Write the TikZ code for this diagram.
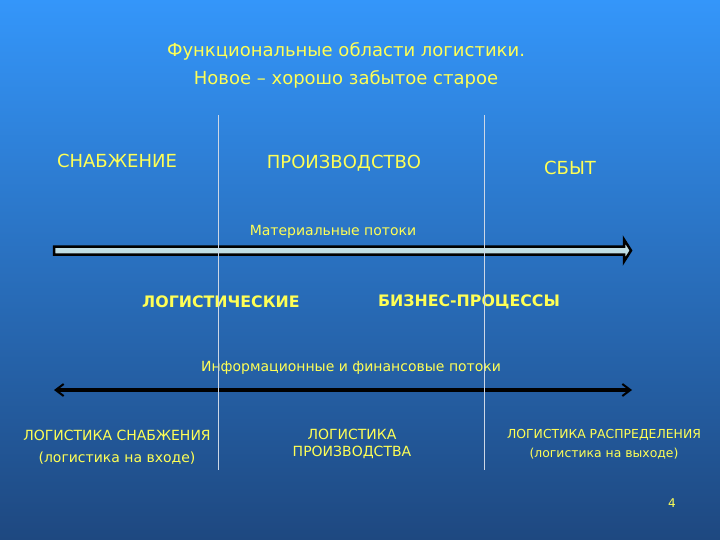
\documentclass[tikz,border=0pt]{standalone}
\usepackage{fontspec}
\setmainfont{DejaVu Sans}
\usepackage{tikz}
\usetikzlibrary{
  arrows.meta,%
  calc
}
\definecolor{slidetop}{RGB}{52,150,250}
\definecolor{slidemid}{RGB}{40,112,195}
\definecolor{slidebot}{RGB}{30,72,128}
\definecolor{yeltext}{RGB}{255,255,85}
\definecolor{flowfill}{RGB}{192,222,228}
\definecolor{divline}{RGB}{205,215,230}
\tikzset{>=latex}
\tikzset{
  yel/.style={text=yeltext, inner sep=0pt, align=center},
  divider/.style={draw=divline, line width=0.8pt},
  matflow/.style={draw=black, line width=2.5pt, fill=flowfill, line join=miter},
  infoflow/.style={draw=black, line width=3.5pt,
    {Straight Barb[length=8pt,width=12pt,line width=2pt]}-{Straight Barb[length=8pt,width=12pt,line width=2pt]}}
}

\begin{document}
\begin{tikzpicture}[x=1pt, y=-1pt]
        % background
        \shade[top color=slidetop, middle color=slidemid, bottom color=slidebot] (0,0) rectangle (720,540);
        % title
        \node[yel, font=\fontsize{18}{28}\selectfont] (title) at (346,65) {Функциональные области логистики.\\Новое – хорошо забытое старое};
        % areas
        \node[yel, font=\fontsize{18}{20}\selectfont] (supply) at (117,161) {СНАБЖЕНИЕ};
        \node[yel, font=\fontsize{18}{20}\selectfont] (production) at (344,163) {ПРОИЗВОДСТВО};
        \node[yel, font=\fontsize{18}{20}\selectfont] (sales) at (570,168) {СБЫТ};
        % material flow
        \node[yel, font=\fontsize{14}{16}\selectfont] (matlabel) at (333,232) {Материальные потоки};
        \coordinate (matstart) at (54,250.5);
        \coordinate (matend) at (631,250.5);
        \draw[matflow] ($(matstart)+(0,-4)$) -- ($(matend)+(-7,-4)$) -- ($(matend)+(-7,-11)$) -- (matend)
          -- ($(matend)+(-7,11)$) -- ($(matend)+(-7,4)$) -- ($(matstart)+(0,4)$) -- cycle;
        % business processes
        \node[yel, font=\bfseries\fontsize{15.8}{18}\selectfont] (logproc) at (221,302) {ЛОГИСТИЧЕСКИЕ};
        \node[yel, font=\bfseries\fontsize{15.8}{18}\selectfont] (bizproc) at (469,302) {БИЗНЕС-ПРОЦЕССЫ};
        % information and financial flows
        \node[yel, font=\fontsize{14}{16}\selectfont] (infolabel) at (351,368) {Информационные и финансовые потоки};
        \coordinate (infostart) at (54,390);
        \coordinate (infoend) at (632,390);
        \draw[infoflow] (infostart) -- (infoend);
        % bottom captions
        \node[yel, font=\fontsize{14}{22}\selectfont] (inlog) at (117,447) {ЛОГИСТИКА СНАБЖЕНИЯ\\(логистика на входе)};
        \node[yel, font=\fontsize{14}{17}\selectfont] (prodlog) at (352,444) {ЛОГИСТИКА\\ПРОИЗВОДСТВА};
        \node[yel, font=\fontsize{12.4}{19}\selectfont] (outlog) at (604,444) {ЛОГИСТИКА РАСПРЕДЕЛЕНИЯ\\(логистика на выходе)};
        \node[yel, font=\fontsize{12}{13}\selectfont] (pagenum) at (672,503) {4};
        % dividers
        \coordinate (divAtop) at (218,115);
        \coordinate (divAbot) at (218,470);
        \coordinate (divBtop) at (484,115);
        \coordinate (divBbot) at (484,470);
        \draw[divider] (divAtop) -- (divAbot);
        \draw[divider] (divBtop) -- (divBbot);
      \end{tikzpicture}
\end{document}
